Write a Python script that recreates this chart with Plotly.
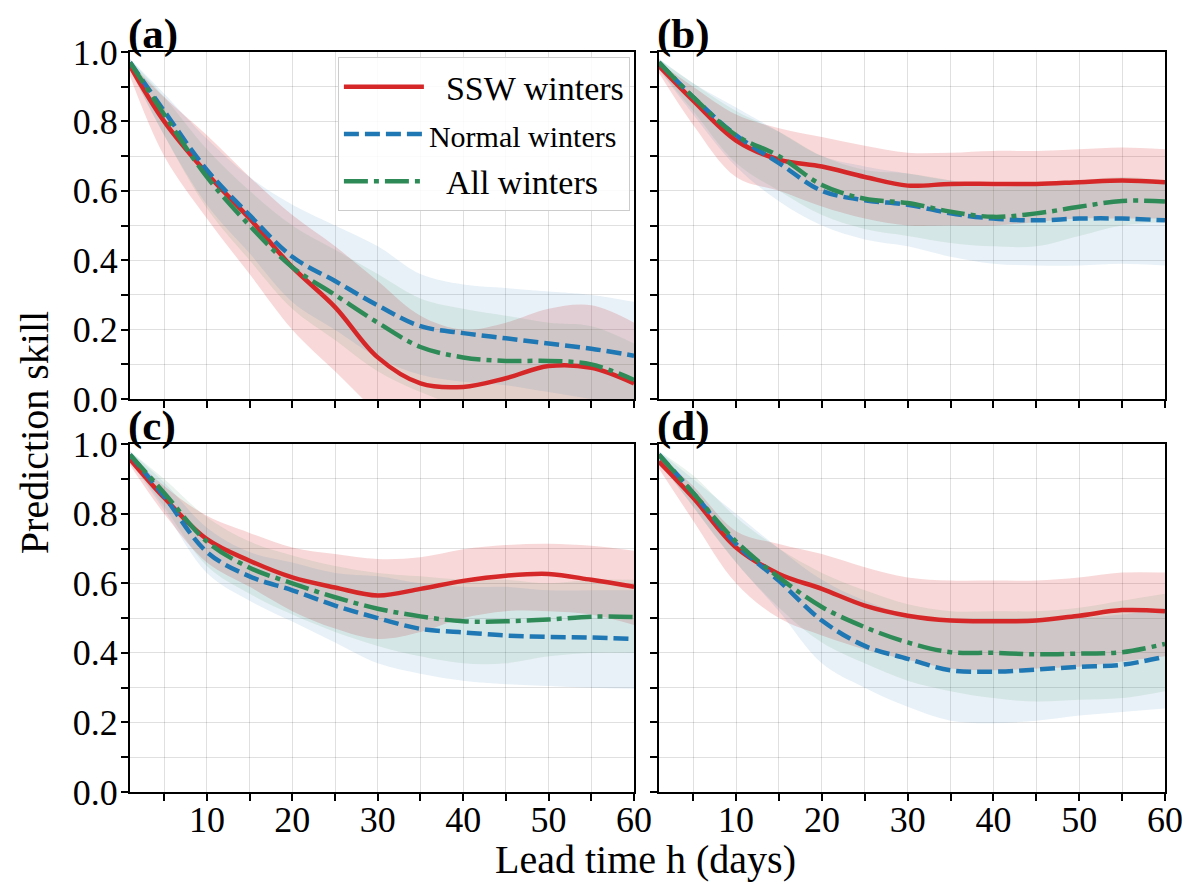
import plotly.graph_objects as go
from plotly.subplots import make_subplots

days = [1, 5, 10, 15, 20, 25, 30, 35, 40, 45, 50, 55, 60]

x_tickvals = [5, 10, 15, 20, 25, 30, 35, 40, 45, 50, 55, 60]
x_ticktext = ['', '10', '', '20', '', '30', '', '40', '', '50', '', '60']
y_tickvals = [0.0, 0.1, 0.2, 0.3, 0.4, 0.5, 0.6, 0.7, 0.8, 0.9, 1.0]
y_ticktext = ['0.0', '', '0.2', '', '0.4', '', '0.6', '', '0.8', '', '1.0']

series_names = ['&nbsp;&nbsp;SSW winters',
                '<span style="font-size:30px">Normal winters</span>',
                '&nbsp;&nbsp;All winters']
panel_labels = ['(a)', '(b)', '(c)', '(d)']

# panel (a)
a_ssw = [0.96, 0.80, 0.65, 0.52, 0.38, 0.265, 0.12, 0.045, 0.035, 0.06, 0.095, 0.09, 0.045]
a_ssw_lo = [0.93, 0.70, 0.52, 0.36, 0.20, 0.08, -0.04, -0.14, -0.15, -0.12, -0.08, -0.08, -0.12]
a_ssw_hi = [0.97, 0.87, 0.76, 0.64, 0.53, 0.44, 0.34, 0.24, 0.20, 0.22, 0.26, 0.27, 0.22]
a_nrm = [0.97, 0.83, 0.66, 0.53, 0.41, 0.34, 0.27, 0.21, 0.19, 0.175, 0.16, 0.145, 0.125]
a_nrm_lo = [0.95, 0.76, 0.56, 0.42, 0.28, 0.20, 0.12, 0.07, 0.05, 0.04, 0.02, 0.0, -0.02]
a_nrm_hi = [0.98, 0.88, 0.75, 0.64, 0.56, 0.50, 0.44, 0.36, 0.33, 0.32, 0.31, 0.30, 0.28]
a_all = [0.97, 0.82, 0.64, 0.50, 0.38, 0.30, 0.22, 0.15, 0.12, 0.11, 0.11, 0.10, 0.055]
a_all_lo = [0.95, 0.76, 0.55, 0.40, 0.26, 0.17, 0.08, 0.02, -0.02, -0.02, 0.0, -0.01, -0.05]
a_all_hi = [0.98, 0.87, 0.72, 0.60, 0.50, 0.43, 0.36, 0.29, 0.26, 0.24, 0.22, 0.21, 0.16]

# panel (b)
b_ssw = [0.96, 0.86, 0.745, 0.69, 0.67, 0.64, 0.615, 0.62, 0.62, 0.62, 0.625, 0.63, 0.625]
b_ssw_lo = [0.94, 0.79, 0.64, 0.60, 0.555, 0.52, 0.50, 0.50, 0.50, 0.51, 0.52, 0.52, 0.52]
b_ssw_hi = [0.97, 0.90, 0.82, 0.78, 0.755, 0.73, 0.71, 0.71, 0.715, 0.715, 0.72, 0.725, 0.72]
b_nrm = [0.97, 0.87, 0.76, 0.68, 0.60, 0.573, 0.56, 0.535, 0.52, 0.515, 0.52, 0.52, 0.515]
b_nrm_lo = [0.95, 0.82, 0.67, 0.57, 0.50, 0.46, 0.44, 0.41, 0.39, 0.385, 0.385, 0.39, 0.385]
b_nrm_hi = [0.98, 0.91, 0.84, 0.77, 0.70, 0.67, 0.65, 0.63, 0.62, 0.62, 0.63, 0.63, 0.63]
b_all = [0.97, 0.87, 0.76, 0.70, 0.617, 0.577, 0.565, 0.54, 0.525, 0.535, 0.554, 0.571, 0.569]
b_all_lo = [0.95, 0.83, 0.68, 0.60, 0.53, 0.49, 0.47, 0.45, 0.44, 0.44, 0.47, 0.50, 0.51]
b_all_hi = [0.98, 0.91, 0.83, 0.77, 0.70, 0.66, 0.65, 0.63, 0.61, 0.62, 0.63, 0.64, 0.63]

# panel (c)
c_ssw = [0.957, 0.846, 0.727, 0.665, 0.617, 0.588, 0.565, 0.584, 0.607, 0.622, 0.627, 0.61, 0.59]
c_ssw_lo = [0.94, 0.80, 0.66, 0.59, 0.52, 0.47, 0.44, 0.46, 0.50, 0.52, 0.52, 0.51, 0.48]
c_ssw_hi = [0.97, 0.88, 0.794, 0.745, 0.703, 0.684, 0.67, 0.675, 0.698, 0.71, 0.714, 0.708, 0.694]
c_nrm = [0.97, 0.85, 0.69, 0.62, 0.58, 0.536, 0.50, 0.469, 0.459, 0.45, 0.446, 0.444, 0.44]
c_nrm_lo = [0.95, 0.81, 0.63, 0.55, 0.49, 0.43, 0.37, 0.34, 0.32, 0.31, 0.305, 0.30, 0.297]
c_nrm_hi = [0.98, 0.89, 0.76, 0.69, 0.66, 0.63, 0.62, 0.60, 0.59, 0.59, 0.58, 0.58, 0.58]
c_all = [0.97, 0.86, 0.72, 0.645, 0.60, 0.56, 0.527, 0.505, 0.491, 0.491, 0.496, 0.504, 0.503]
c_all_lo = [0.95, 0.82, 0.65, 0.57, 0.51, 0.46, 0.42, 0.39, 0.37, 0.37, 0.39, 0.40, 0.40]
c_all_hi = [0.98, 0.90, 0.79, 0.72, 0.68, 0.65, 0.63, 0.62, 0.61, 0.61, 0.60, 0.61, 0.61]

# panel (d)
d_ssw = [0.95, 0.846, 0.703, 0.627, 0.584, 0.536, 0.507, 0.493, 0.491, 0.493, 0.507, 0.523, 0.52]
d_ssw_lo = [0.93, 0.78, 0.60, 0.50, 0.45, 0.41, 0.38, 0.355, 0.35, 0.355, 0.36, 0.375, 0.39]
d_ssw_hi = [0.97, 0.88, 0.75, 0.713, 0.684, 0.646, 0.617, 0.608, 0.608, 0.608, 0.617, 0.631, 0.631]
d_nrm = [0.97, 0.86, 0.713, 0.607, 0.493, 0.42, 0.383, 0.35, 0.346, 0.352, 0.36, 0.366, 0.389]
d_nrm_lo = [0.95, 0.82, 0.66, 0.52, 0.37, 0.30, 0.245, 0.205, 0.198, 0.205, 0.22, 0.23, 0.24]
d_nrm_hi = [0.98, 0.90, 0.80, 0.70, 0.61, 0.55, 0.51, 0.49, 0.49, 0.49, 0.50, 0.51, 0.53]
d_all = [0.97, 0.86, 0.72, 0.617, 0.532, 0.474, 0.43, 0.402, 0.40, 0.396, 0.398, 0.402, 0.426]
d_all_lo = [0.95, 0.82, 0.66, 0.53, 0.43, 0.37, 0.32, 0.29, 0.27, 0.26, 0.265, 0.27, 0.29]
d_all_hi = [0.98, 0.91, 0.79, 0.70, 0.63, 0.58, 0.54, 0.52, 0.52, 0.52, 0.53, 0.55, 0.57]

panels = [
    [(a_ssw, a_ssw_lo, a_ssw_hi), (a_nrm, a_nrm_lo, a_nrm_hi), (a_all, a_all_lo, a_all_hi)],
    [(b_ssw, b_ssw_lo, b_ssw_hi), (b_nrm, b_nrm_lo, b_nrm_hi), (b_all, b_all_lo, b_all_hi)],
    [(c_ssw, c_ssw_lo, c_ssw_hi), (c_nrm, c_nrm_lo, c_nrm_hi), (c_all, c_all_lo, c_all_hi)],
    [(d_ssw, d_ssw_lo, d_ssw_hi), (d_nrm, d_nrm_lo, d_nrm_hi), (d_all, d_all_lo, d_all_hi)],
]

line_colors = ['#d62728', '#1f77b4', '#2e8b57']
band_colors = ['rgba(214,39,40,0.18)', 'rgba(31,119,180,0.10)', 'rgba(46,139,87,0.10)']
dashes = ['solid', '15px,6px', '24px,6px,5px,6px']

FONT = 'Liberation Serif, Times New Roman, serif'

fig = make_subplots(rows=2, cols=2)
positions = [(1, 1), (1, 2), (2, 1), (2, 2)]

for p, (row, col) in enumerate(positions):
    # shaded spread first
    for s, (mean, lo, hi) in enumerate(panels[p]):
        fig.add_trace(go.Scatter(x=days, y=lo, mode='lines', line=dict(width=0, shape='spline'),
                                 showlegend=False, hoverinfo='skip'), row=row, col=col)
        fig.add_trace(go.Scatter(x=days, y=hi, mode='lines', line=dict(width=0, shape='spline'),
                                 fill='tonexty', fillcolor=band_colors[s],
                                 showlegend=False, hoverinfo='skip'), row=row, col=col)
    for s, (mean, lo, hi) in enumerate(panels[p]):
        fig.add_trace(go.Scatter(x=days, y=mean, mode='lines', name=series_names[s],
                                 line=dict(color=line_colors[s], width=4.5, dash=dashes[s], shape='spline'),
                                 showlegend=(p == 0)), row=row, col=col)

x_domains = [[0, 0.487], [0.511, 1], [0, 0.487], [0.511, 1]]
y_domains = [[0.531, 1], [0.531, 1], [0, 0.470], [0, 0.470]]

for p in range(4):
    suffix = '' if p == 0 else str(p + 1)
    fig.layout['xaxis' + suffix].update(
        domain=x_domains[p], range=[1, 60], tickvals=x_tickvals, ticktext=x_ticktext,
        showticklabels=(p >= 2), ticks='outside', ticklen=7, tickwidth=1.5, tickcolor='black',
        ticklabelstandoff=-12,
        showgrid=True, gridcolor='rgba(0,0,0,0.12)', gridwidth=1,
        showline=True, linecolor='black', linewidth=2, mirror=True, zeroline=False,
        tickfont=dict(family=FONT, size=36, color='black'))
    fig.layout['yaxis' + suffix].update(
        domain=y_domains[p], range=[0, 1], tickvals=y_tickvals, ticktext=y_ticktext,
        showticklabels=(p % 2 == 0), ticks='outside', ticklen=7, tickwidth=1.5, tickcolor='black',
        ticklabelstandoff=-4,
        showgrid=True, gridcolor='rgba(0,0,0,0.12)', gridwidth=1,
        showline=True, linecolor='black', linewidth=2, mirror=True, zeroline=False,
        tickfont=dict(family=FONT, size=36, color='black'))
    fig.add_annotation(text='<b>' + panel_labels[p] + '</b>', xref='paper', yref='paper',
                       x=x_domains[p][0], y=y_domains[p][1], xanchor='left', yanchor='bottom',
                       xshift=-4, yshift=-8, showarrow=False, font=dict(family=FONT, size=43, color='black'))

fig.add_annotation(text='Prediction skill', xref='paper', yref='paper', x=-0.092, y=0.486,
                   textangle=-90, showarrow=False, xanchor='center', yanchor='middle',
                   font=dict(family=FONT, size=40, color='black'))
fig.add_annotation(text='Lead time h (days)', xref='paper', yref='paper', x=0.4976, y=-0.091,
                   showarrow=False, xanchor='center', yanchor='middle',
                   font=dict(family=FONT, size=40, color='black'))

# the page body adds an 8px offset, so margins are trimmed by that amount
fig.update_layout(
    width=1195, height=884,
    margin=dict(l=122, r=38, t=44, b=100),
    plot_bgcolor='white', paper_bgcolor='white',
    legend=dict(x=0.483, y=0.993, xanchor='right', yanchor='top', traceorder='normal',
                bgcolor='rgba(255,255,255,0.85)', bordercolor='#cccccc', borderwidth=1,
                font=dict(family=FONT, size=34, color='black'), itemwidth=80,
                tracegroupgap=4),
)

fig.write_html("out.html")
